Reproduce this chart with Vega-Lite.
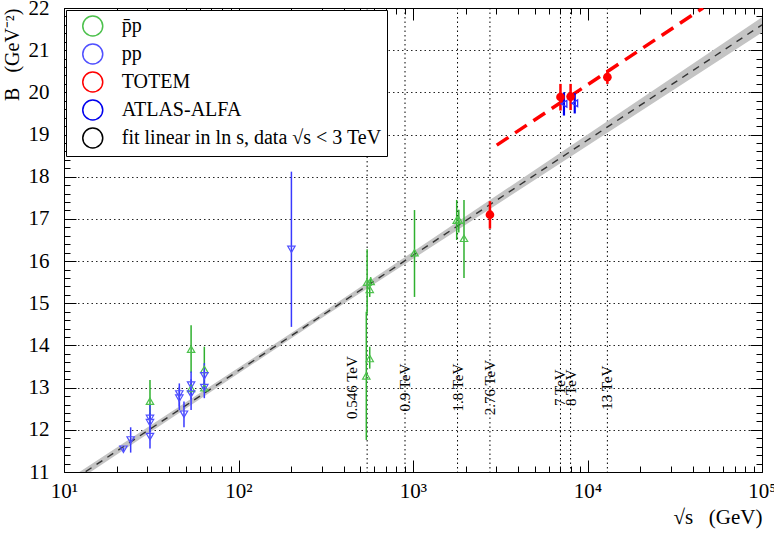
{
  "$schema": "https://vega.github.io/schema/vega-lite/v6.json",
  "width": 698,
  "height": 464,
  "autosize": {"type": "none"},
  "padding": {"left": 64, "top": 8, "right": 12, "bottom": 62},
  "background": "white",
  "config": {
    "view": {"stroke": "black", "strokeWidth": 1},
    "font": "Liberation Serif",
    "axis": {"labelColor": "black", "titleColor": "black", "domain": false, "tickColor": "black", "labelFont": "Liberation Serif", "titleFont": "Liberation Serif"},
    "legend": {"labelFont": "Liberation Serif"}
  },
  "datasets": {
    "pts": [
      {"s": "p̄p", "x": 31.1, "B": 12.68, "lo": 12.2, "hi": 13.18},
      {"s": "p̄p", "x": 53.5, "B": 13.91, "lo": 13.35, "hi": 14.48},
      {"s": "p̄p", "x": 53.5, "B": 12.98, "lo": 12.85, "hi": 13.1},
      {"s": "p̄p", "x": 63.7, "B": 13.43, "lo": 12.95, "hi": 13.97},
      {"s": "p̄p", "x": 63.7, "B": 13.0, "lo": 12.88, "hi": 13.12},
      {"s": "p̄p", "x": 546, "B": 15.5, "lo": 14.75, "hi": 16.28},
      {"s": "p̄p", "x": 572, "B": 15.52, "lo": 15.42, "hi": 15.62},
      {"s": "p̄p", "x": 565, "B": 15.33, "lo": 15.15, "hi": 15.5},
      {"s": "p̄p", "x": 565, "B": 13.69, "lo": 13.45, "hi": 13.97},
      {"s": "p̄p", "x": 540, "B": 13.28, "lo": 11.76, "hi": 14.8},
      {"s": "p̄p", "x": 1020, "B": 16.2, "lo": 15.15, "hi": 17.21},
      {"s": "p̄p", "x": 1780, "B": 16.97, "lo": 16.5, "hi": 17.45},
      {"s": "p̄p", "x": 1830, "B": 16.97, "lo": 16.68, "hi": 17.22},
      {"s": "p̄p", "x": 1960, "B": 16.54, "lo": 15.6, "hi": 17.45},
      {"s": "pp", "x": 21.9, "B": 11.54, "lo": 11.5, "hi": 11.58},
      {"s": "pp", "x": 24.1, "B": 11.76, "lo": 11.46, "hi": 12.06},
      {"s": "pp", "x": 31.1, "B": 12.27, "lo": 11.98, "hi": 12.59},
      {"s": "pp", "x": 31.1, "B": 12.17, "lo": 11.95, "hi": 12.4},
      {"s": "pp", "x": 31.1, "B": 11.84, "lo": 11.56, "hi": 12.05},
      {"s": "pp", "x": 45.8, "B": 12.85, "lo": 12.55, "hi": 13.1},
      {"s": "pp", "x": 45.8, "B": 12.75, "lo": 12.47, "hi": 13.02},
      {"s": "pp", "x": 48.7, "B": 12.37, "lo": 12.06, "hi": 12.67},
      {"s": "pp", "x": 53.5, "B": 13.06, "lo": 12.72, "hi": 13.38},
      {"s": "pp", "x": 53.5, "B": 12.85, "lo": 12.47, "hi": 13.2},
      {"s": "pp", "x": 63.7, "B": 13.28, "lo": 12.98, "hi": 13.58},
      {"s": "pp", "x": 63.7, "B": 13.0, "lo": 12.75, "hi": 13.25},
      {"s": "pp", "x": 201, "B": 16.28, "lo": 14.44, "hi": 18.12},
      {"s": "TOTEM", "x": 2760, "B": 17.1, "lo": 16.77, "hi": 17.42},
      {"s": "TOTEM", "x": 7000, "B": 19.89, "lo": 19.57, "hi": 20.2},
      {"s": "TOTEM", "x": 8000, "B": 19.9, "lo": 19.58, "hi": 20.2},
      {"s": "TOTEM", "x": 13000, "B": 20.36, "lo": 20.2, "hi": 20.52},
      {"s": "ATLAS-ALFA", "x": 7330, "B": 19.73, "lo": 19.45, "hi": 20.0},
      {"s": "ATLAS-ALFA", "x": 8450, "B": 19.74, "lo": 19.5, "hi": 19.98}
    ],
    "band": [
      {"x": 10, "lo": 10.58, "hi": 10.76},
      {"x": 300, "lo": 14.65, "hi": 14.77},
      {"x": 100000, "lo": 21.42, "hi": 21.78}
    ],
    "fit": [
      {"x": 10, "B": 10.67},
      {"x": 100000, "B": 21.6}
    ],
    "totemfit": [
      {"x": 3020, "B": 18.75},
      {"x": 45900, "B": 22.0}
    ],
    "energies": [
      {"x": 546, "lab": "0.546 TeV"},
      {"x": 900, "lab": "0.9 TeV"},
      {"x": 1800, "lab": "1.8 TeV"},
      {"x": 2760, "lab": "2.76 TeV"},
      {"x": 7000, "lab": "7 TeV"},
      {"x": 8000, "lab": "8 TeV"},
      {"x": 13000, "lab": "13 TeV"}
    ]
  },
  "layer": [
    {
      "data": {"name": "energies"},
      "mark": {"type": "rule", "strokeDash": [1.5, 3], "color": "black", "strokeWidth": 1},
      "encoding": {
        "x": {"field": "x", "type": "quantitative", "scale": {"type": "log", "domain": [10, 100000], "nice": false}, "axis": null}
      }
    },
    {
      "data": {"name": "band"},
      "mark": {"type": "area", "color": "#c4c4c4", "clip": true},
      "encoding": {
        "x": {"field": "x", "type": "quantitative", "scale": {"type": "log", "domain": [10, 100000], "nice": false},
          "axis": {"orient": "bottom", "values": [10, 100, 1000, 10000, 100000], "ticks": false, "tickSize": 0, "grid": false, "domain": false,
            "labelExpr": "'10' + ['⁰','¹','²','³','⁴','⁵'][round(log(datum.value)/LN10)]",
            "labelFontSize": 21, "labelPadding": 8, "labelFlush": false, "labelOverlap": false,
            "title": "√s\u00a0\u00a0\u00a0(GeV)", "titleAnchor": "end", "titleFontSize": 21, "titleFontWeight": "normal", "titlePadding": 5}},
        "y": {"field": "lo", "type": "quantitative", "scale": {"domain": [11, 22], "nice": false, "zero": false},
          "axis": {"orient": "left", "values": [11, 12, 13, 14, 15, 16, 17, 18, 19, 20, 21, 22], "ticks": false, "tickSize": 0, "grid": true,
            "gridDash": [1.5, 3], "gridColor": "black", "gridWidth": 1, "gridOpacity": 0.85, "domain": false,
            "labelFontSize": 21, "labelPadding": 15, "labelFlush": false, "labelOverlap": false,
            "title": "B\u00a0\u00a0\u00a0(GeV⁻²)", "titleAnchor": "end", "titleFontSize": 20, "titleFontWeight": "normal", "titlePadding": 6}},
        "y2": {"field": "hi"}
      }
    },
    {
      "data": {"name": "fit"},
      "mark": {"type": "line", "color": "#333333", "strokeWidth": 1.4, "strokeDash": [7, 6], "clip": true},
      "encoding": {
        "x": {"field": "x", "type": "quantitative", "scale": {"type": "log", "domain": [10, 100000], "nice": false},
          "axis": {"orient": "bottom", "values": [10, 100, 1000, 10000, 100000], "labels": false, "grid": false, "domain": false, "ticks": true, "tickSize": -12, "tickWidth": 1, "title": null}},
        "y": {"field": "B", "type": "quantitative", "scale": {"domain": [11, 22], "nice": false, "zero": false},
          "axis": {"orient": "left", "values": [11, 12, 13, 14, 15, 16, 17, 18, 19, 20, 21, 22], "labels": false, "grid": false, "domain": false, "ticks": true, "tickSize": -12, "tickWidth": 1, "title": null}}
      }
    },
    {
      "data": {"name": "totemfit"},
      "mark": {"type": "line", "color": "#ff0000", "strokeWidth": 3.5, "strokeDash": [14, 8], "clip": true},
      "encoding": {
        "x": {"field": "x", "type": "quantitative", "scale": {"type": "log", "domain": [10, 100000], "nice": false},
          "axis": {"orient": "bottom", "values": [20, 30, 40, 50, 60, 70, 80, 90, 200, 300, 400, 500, 600, 700, 800, 900, 2000, 3000, 4000, 5000, 6000, 7000, 8000, 9000, 20000, 30000, 40000, 50000, 60000, 70000, 80000, 90000], "labels": false, "grid": false, "domain": false, "ticks": true, "tickSize": -6, "tickWidth": 1, "title": null}},
        "y": {"field": "B", "type": "quantitative", "scale": {"domain": [11, 22], "nice": false, "zero": false},
          "axis": {"orient": "left", "values": [11.2, 11.4, 11.6, 11.8, 12.2, 12.4, 12.6, 12.8, 13.2, 13.4, 13.6, 13.8, 14.2, 14.4, 14.6, 14.8, 15.2, 15.4, 15.6, 15.8, 16.2, 16.4, 16.6, 16.8, 17.2, 17.4, 17.6, 17.8, 18.2, 18.4, 18.6, 18.8, 19.2, 19.4, 19.6, 19.8, 20.2, 20.4, 20.6, 20.8, 21.2, 21.4, 21.6, 21.8], "labels": false, "grid": false, "domain": false, "ticks": true, "tickSize": -6, "tickWidth": 1, "title": null}}
      }
    },
    {
      "data": {"name": "pts"},
      "transform": [{"filter": "datum.s === 'p̄p'"}],
      "mark": {"type": "rule", "strokeWidth": 1.5, "color": "#2fb02f"},
      "encoding": {
        "x": {"field": "x", "type": "quantitative", "scale": {"type": "log", "domain": [10, 100000], "nice": false},
          "axis": {"orient": "top", "values": [10, 100, 1000, 10000, 100000], "labels": false, "grid": false, "domain": false, "ticks": true, "tickSize": -12, "tickWidth": 1, "title": null}},
        "y": {"field": "lo", "type": "quantitative", "scale": {"domain": [11, 22], "nice": false, "zero": false},
          "axis": {"orient": "right", "values": [11, 12, 13, 14, 15, 16, 17, 18, 19, 20, 21, 22], "labels": false, "grid": false, "domain": false, "ticks": true, "tickSize": -12, "tickWidth": 1, "title": null}},
        "y2": {"field": "hi"}
      }
    },
    {
      "data": {"name": "pts"},
      "transform": [{"filter": "datum.s === 'pp'"}],
      "mark": {"type": "rule", "strokeWidth": 1.5, "color": "#3a3aff"},
      "encoding": {
        "x": {"field": "x", "type": "quantitative", "scale": {"type": "log", "domain": [10, 100000], "nice": false}, "axis": null},
        "y": {"field": "lo", "type": "quantitative", "scale": {"domain": [11, 22], "nice": false, "zero": false}, "axis": null},
        "y2": {"field": "hi"}
      }
    },
    {
      "data": {"name": "pts"},
      "transform": [{"filter": "datum.s === 'TOTEM'"}],
      "mark": {"type": "rule", "strokeWidth": 2.5, "color": "#ff0000"},
      "encoding": {
        "x": {"field": "x", "type": "quantitative", "scale": {"type": "log", "domain": [10, 100000], "nice": false}, "axis": null},
        "y": {"field": "lo", "type": "quantitative", "scale": {"domain": [11, 22], "nice": false, "zero": false}, "axis": null},
        "y2": {"field": "hi"}
      }
    },
    {
      "data": {"name": "pts"},
      "transform": [{"filter": "datum.s === 'ATLAS-ALFA'"}],
      "mark": {"type": "rule", "strokeWidth": 2.2, "color": "#0000ee"},
      "encoding": {
        "x": {"field": "x", "type": "quantitative", "scale": {"type": "log", "domain": [10, 100000], "nice": false}, "axis": null},
        "y": {"field": "lo", "type": "quantitative", "scale": {"domain": [11, 22], "nice": false, "zero": false}, "axis": null},
        "y2": {"field": "hi"}
      }
    },
    {
      "data": {"name": "pts"},
      "transform": [{"filter": "datum.s === 'p̄p'"}],
      "mark": {"type": "point", "filled": false, "shape": "triangle-up", "size": 55, "strokeWidth": 1.2, "opacity": 1, "color": "#4cc14c"},
      "encoding": {
        "x": {"field": "x", "type": "quantitative", "scale": {"type": "log", "domain": [10, 100000], "nice": false},
          "axis": {"orient": "top", "values": [20, 30, 40, 50, 60, 70, 80, 90, 200, 300, 400, 500, 600, 700, 800, 900, 2000, 3000, 4000, 5000, 6000, 7000, 8000, 9000, 20000, 30000, 40000, 50000, 60000, 70000, 80000, 90000], "labels": false, "grid": false, "domain": false, "ticks": true, "tickSize": -6, "tickWidth": 1, "title": null}},
        "y": {"field": "B", "type": "quantitative", "scale": {"domain": [11, 22], "nice": false, "zero": false},
          "axis": {"orient": "right", "values": [11.2, 11.4, 11.6, 11.8, 12.2, 12.4, 12.6, 12.8, 13.2, 13.4, 13.6, 13.8, 14.2, 14.4, 14.6, 14.8, 15.2, 15.4, 15.6, 15.8, 16.2, 16.4, 16.6, 16.8, 17.2, 17.4, 17.6, 17.8, 18.2, 18.4, 18.6, 18.8, 19.2, 19.4, 19.6, 19.8, 20.2, 20.4, 20.6, 20.8, 21.2, 21.4, 21.6, 21.8], "labels": false, "grid": false, "domain": false, "ticks": true, "tickSize": -6, "tickWidth": 1, "title": null}}
      }
    },
    {
      "data": {"name": "pts"},
      "transform": [{"filter": "datum.s === 'pp'"}],
      "mark": {"type": "point", "filled": false, "shape": "triangle-down", "size": 55, "strokeWidth": 1.2, "opacity": 1, "color": "#5050ff"},
      "encoding": {
        "x": {"field": "x", "type": "quantitative", "scale": {"type": "log", "domain": [10, 100000], "nice": false}, "axis": null},
        "y": {"field": "B", "type": "quantitative", "scale": {"domain": [11, 22], "nice": false, "zero": false}, "axis": null}
      }
    },
    {
      "data": {"name": "pts"},
      "transform": [{"filter": "datum.s === 'ATLAS-ALFA'"}],
      "mark": {"type": "point", "filled": false, "shape": "triangle-left", "size": 45, "strokeWidth": 1.3, "opacity": 1, "color": "#3030ff"},
      "encoding": {
        "x": {"field": "x", "type": "quantitative", "scale": {"type": "log", "domain": [10, 100000], "nice": false}, "axis": null},
        "y": {"field": "B", "type": "quantitative", "scale": {"domain": [11, 22], "nice": false, "zero": false}, "axis": null}
      }
    },
    {
      "data": {"name": "pts"},
      "transform": [{"filter": "datum.s === 'TOTEM'"}],
      "mark": {"type": "point", "filled": true, "shape": "circle", "size": 75, "opacity": 1, "color": "#ff0000"},
      "encoding": {
        "x": {"field": "x", "type": "quantitative", "scale": {"type": "log", "domain": [10, 100000], "nice": false}, "axis": null},
        "y": {"field": "B", "type": "quantitative", "scale": {"domain": [11, 22], "nice": false, "zero": false}, "axis": null}
      }
    },
    {
      "data": {"name": "pts"},
      "mark": {"type": "point", "filled": false, "size": 55, "opacity": 0},
      "encoding": {
        "x": {"field": "x", "type": "quantitative", "scale": {"type": "log", "domain": [10, 100000], "nice": false}, "axis": null},
        "y": {"field": "B", "type": "quantitative", "scale": {"domain": [11, 22], "nice": false, "zero": false}, "axis": null},
        "color": {"field": "s", "type": "nominal", "scale": {"domain": ["p̄p", "pp", "TOTEM", "ATLAS-ALFA", "fit linear in ln s, data √s < 3 TeV"], "range": ["#4cc14c", "#5050ff", "#ff0000", "#0000ee", "#000000"]},
          "legend": {
            "title": null, "orient": "top-left", "offset": 2, "padding": 5,
            "strokeColor": "black", "fillColor": "white", "cornerRadius": 0,
            "symbolSize": 400, "symbolStrokeWidth": 1.5, "symbolOffset": 10.75, "labelOffset": 18,
            "labelFontSize": 20, "labelColor": "black", "labelLimit": 500, "rowPadding": 2,
            "encode": {"symbols": {
              "shape": {"condition": [
                {"test": "datum.value === 'pp'", "value": "M-2.15,0H-0.28M0.28,0H2.15M0,0.42L0.5,-0.34L-0.5,-0.34Z"},
                {"test": "datum.value === 'TOTEM'", "value": "M-2.15,0H2.15M0.48,0A0.48,0.48 0 1,1 -0.48,0A0.48,0.48 0 1,1 0.48,0Z"},
                {"test": "datum.value === 'ATLAS-ALFA'", "value": "M-2.15,0H-0.45M0.35,0H2.15M-0.45,0L0.35,-0.42L0.35,0.42Z"},
                {"test": "datum.value === 'p̄p'", "value": "M-2.15,0H-0.28M0.28,0H2.15M0,-0.42L0.5,0.34L-0.5,0.34Z"}
              ], "value": "M-2.15,0H-1.85M-1,0H0M0.5,0H1.5"},
              "fill": {"condition": {"test": "datum.value === 'TOTEM'", "value": "#ff0000"}, "value": "white"},
              "size": {"value": 400},
              "strokeWidth": {"value": 1.5},
              "opacity": {"value": 1}}}
          }}
      }
    },
    {
      "data": {"name": "energies"},
      "transform": [{"filter": "datum.x !== 546"}],
      "mark": {"type": "text", "angle": 270, "align": "center", "baseline": "middle", "font": "Liberation Serif", "fontSize": 15, "color": "black"},
      "encoding": {
        "x": {"field": "x", "type": "quantitative", "scale": {"type": "log", "domain": [10, 100000], "nice": false}, "axis": null},
        "y": {"datum": 13, "type": "quantitative", "scale": {"domain": [11, 22], "nice": false, "zero": false}, "axis": null},
        "text": {"field": "lab"}
      }
    },
    {
      "data": {"name": "energies"},
      "transform": [{"filter": "datum.x === 546"}],
      "mark": {"type": "text", "angle": 270, "align": "center", "baseline": "middle", "font": "Liberation Serif", "fontSize": 15, "color": "black", "dy": -15},
      "encoding": {
        "x": {"field": "x", "type": "quantitative", "scale": {"type": "log", "domain": [10, 100000], "nice": false}, "axis": null},
        "y": {"datum": 13, "type": "quantitative", "scale": {"domain": [11, 22], "nice": false, "zero": false}, "axis": null},
        "text": {"field": "lab"}
      }
    }
  ],
  "resolve": {"axis": {"x": "independent", "y": "independent"}}
}
